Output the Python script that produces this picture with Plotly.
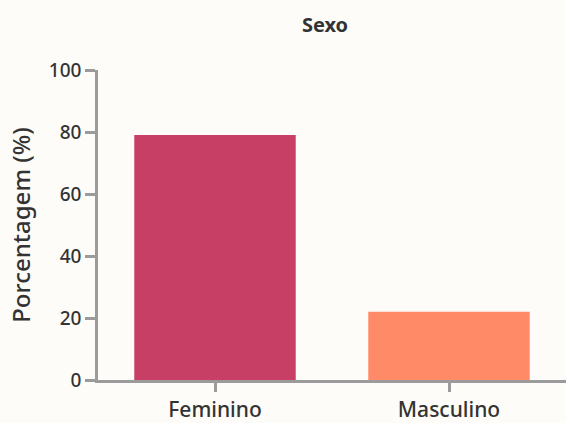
import plotly.graph_objects as go

categories = ["Feminino", "Masculino"]
values = [79, 22]
colors = ["#c73f64", "#ff8a68"]
y_ticks = [0, 20, 40, 60, 80, 100]

FONT = "Noto Sans"
bg = "#fdfcf8"
axis_col = "#9b9b9b"
text_col = "#333333"

fig = go.Figure(go.Bar(
    x=categories, y=values, marker=dict(color=colors, line=dict(width=0)),
    width=0.69, hoverinfo="x+y",
))

fig.update_layout(
    width=566, height=423,
    margin=dict(l=98, r=0, t=70, b=43),
    paper_bgcolor=bg, plot_bgcolor=bg,
    font=dict(family=FONT, color=text_col, size=19, weight=500),
    title=dict(text="<b>Sexo</b>", x=325/566, xref="container", xanchor="center",
               y=1 - 25/423, yref="container", yanchor="middle",
               font=dict(size=20, family=FONT, color=text_col)),
    showlegend=False,
)
fig.update_xaxes(
    range=[-0.5, 1.5], showline=True, linecolor=axis_col, linewidth=2.5,
    ticks="outside", ticklen=9, tickwidth=2.5, tickcolor=axis_col,
    showgrid=False, zeroline=False,
    tickfont=dict(size=21, color=text_col, family=FONT, weight=500),
)
fig.update_yaxes(
    range=[0, 100], tickvals=y_ticks, showline=True, linecolor=axis_col, linewidth=2.5,
    ticks="outside", ticklen=10, tickwidth=2.5, tickcolor=axis_col,
    showgrid=False, zeroline=False,
    tickfont=dict(size=19, color=text_col, family=FONT, weight=500),
    title=dict(text="Porcentagem (%)",
               font=dict(size=24, color=text_col, family=FONT, weight=500), standoff=12),
)

fig.write_html("out.html", config={"displayModeBar": False},
               post_script="document.body.style.margin='0';")
